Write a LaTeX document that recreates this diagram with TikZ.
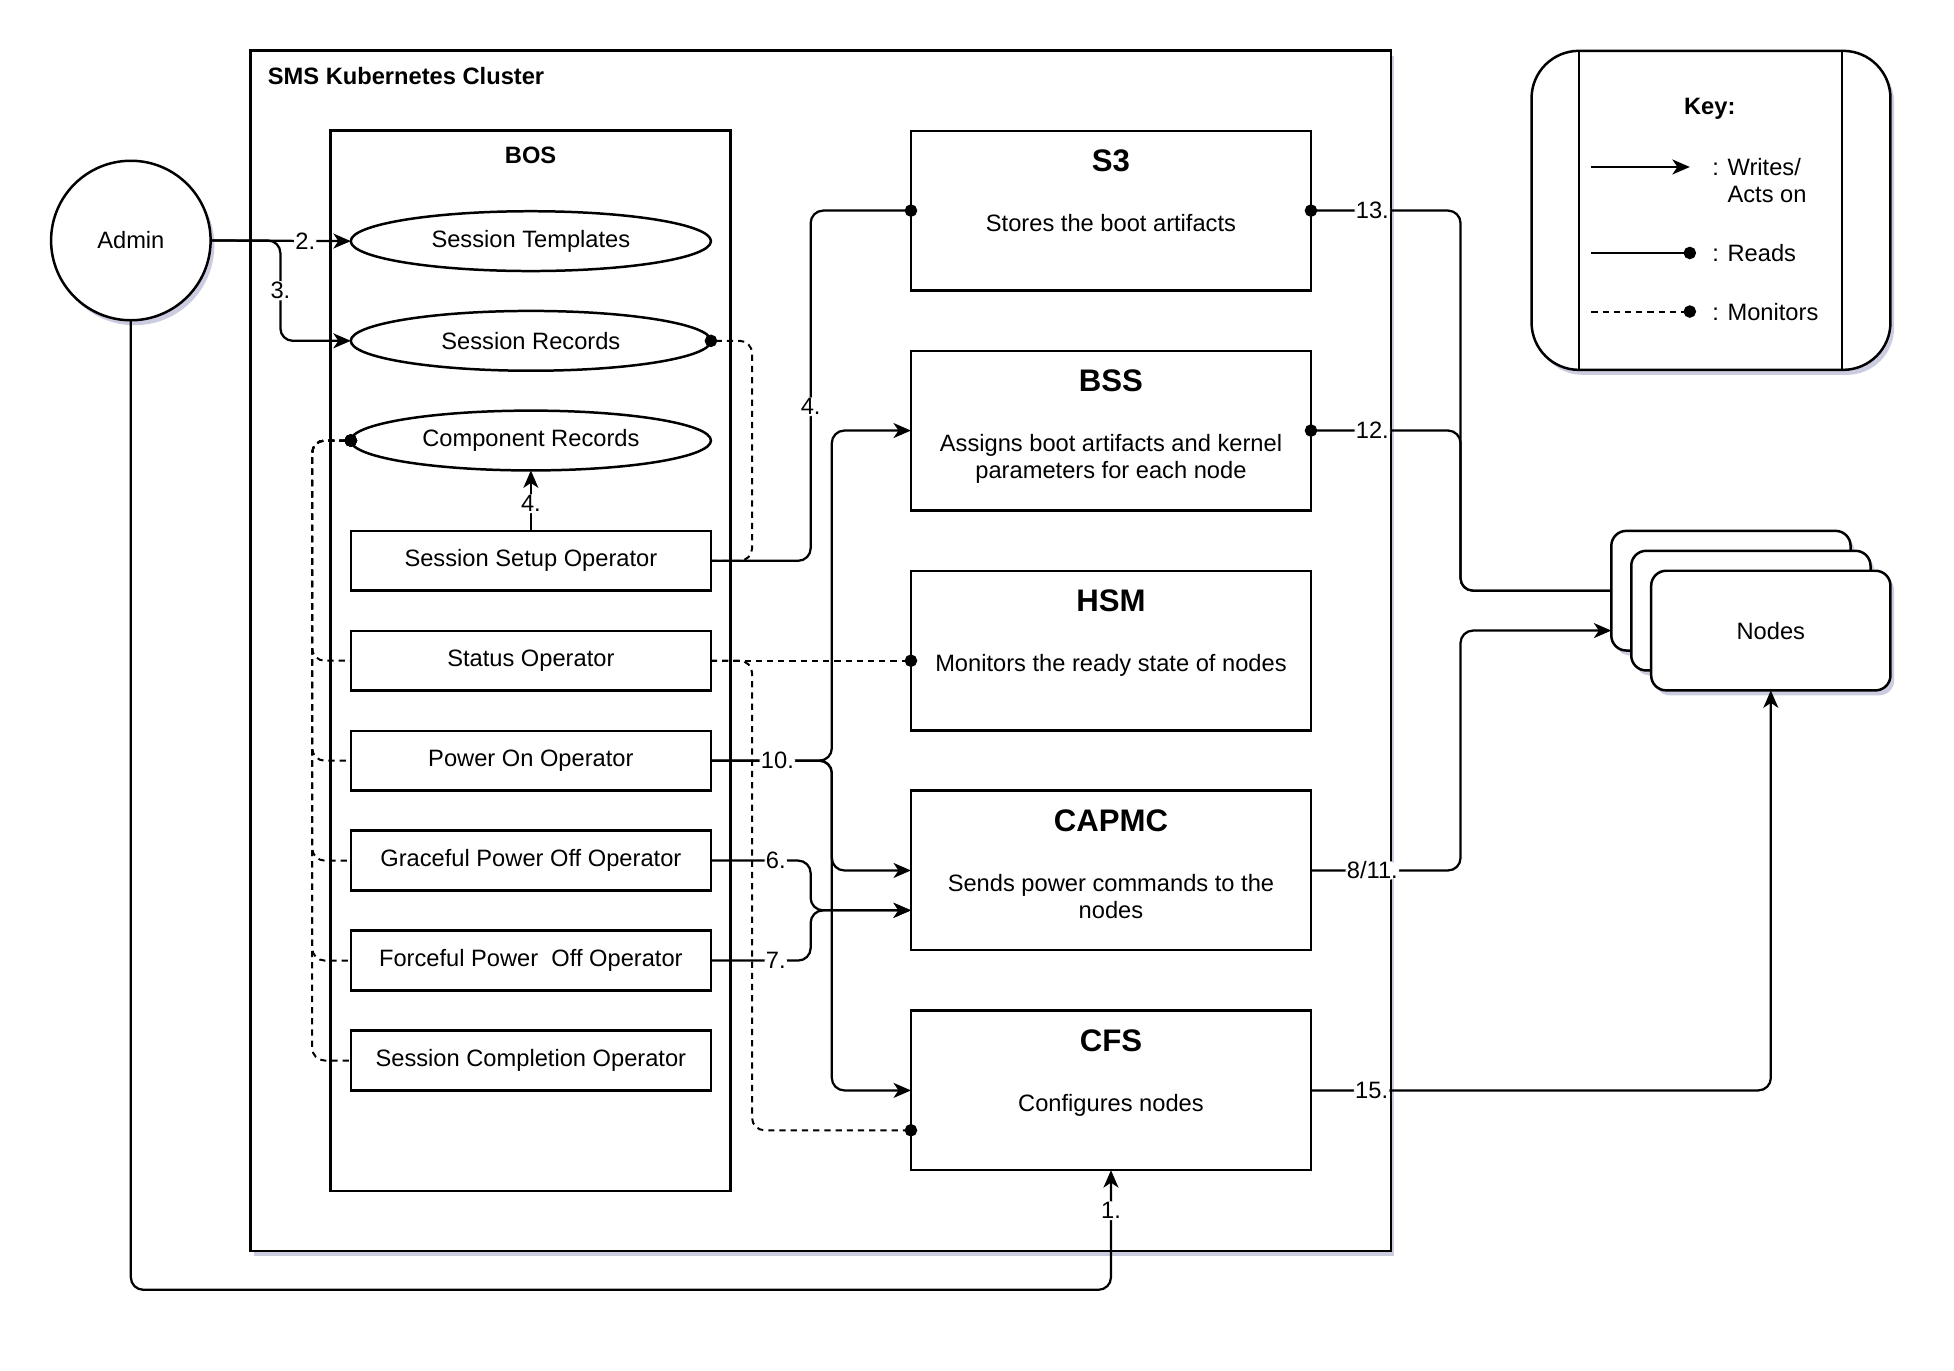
\documentclass[tikz,border=0pt]{standalone}
\usepackage{fontspec}
\setmainfont{Liberation Sans}
\usetikzlibrary{arrows.meta, positioning, shapes.geometric, shadows}

\begin{document}
\begin{tikzpicture}[x=1pt, y=-1pt,
                every node/.style={font=\fontsize{19}{22}\selectfont, outer sep=0pt},
                softshadow/.style={drop shadow={shadow xshift=3pt, shadow yshift=-4pt,
                                   opacity=0.2, fill=blue!40!black}},
                heading/.style={font=\fontsize{19}{22}\selectfont\bfseries, inner sep=0pt},
                cluster/.style={draw, line width=2pt, fill=white, softshadow,
                                minimum width=915pt, minimum height=963pt},
                bos/.style={draw, line width=2pt, minimum width=321pt, minimum height=851pt},
                actor/.style={circle, draw, line width=2pt, fill=white, softshadow,
                              minimum size=128pt},
                store/.style={ellipse, draw, line width=2pt, minimum width=289pt,
                              minimum height=48pt, inner sep=0pt},
                opbox/.style={draw, line width=2pt, minimum width=289pt, minimum height=48pt},
                svc/.style={draw, line width=2pt, minimum width=321pt, minimum height=128pt},
                svctitle/.style={font=\fontsize{25}{30}\selectfont\bfseries, inner sep=0pt},
                svctext/.style={align=center, inner sep=0pt},
                keybox/.style={draw, line width=2pt, fill=white, softshadow, rounded corners=38pt,
                               minimum width=288pt, minimum height=256pt},
                nodebox/.style={draw, line width=2pt, fill=white, softshadow, rounded corners=12pt,
                                minimum width=192pt, minimum height=96pt},
                lbl/.style={fill=white, inner sep=1pt},
                rdot/.tip={Circle[length=10pt]},
                writes/.style={-{Stealth[length=14pt, width=12pt, inset=4pt]}, line width=1.8pt,
                               rounded corners=10pt},
                reads/.style={line width=1.8pt, rounded corners=10pt},
                monitor/.style={line width=1.6pt, rounded corners=10pt, dash pattern=on 5pt off 4pt}]

                \useasboundingbox (0,0) rectangle (1568,1099.4);

                % Cluster and BOS containers
                \node[cluster] (sms) at (658.5,522.2) {};
                \node[heading, anchor=west] (smstitle) at (215,61) {SMS Kubernetes Cluster};
                \node[bos] (bosbox) at (425.8,530.1) {};
                \node[heading] (bostitle) at (425.8,125) {BOS};

                \node[actor] (admin) at (105,193) {Admin};

                % BOS records - ellipses
                \node[store] (st) at (426,193.5) {Session Templates};
                \node[store] (sr) at (426,273.5) {Session Records};
                \node[store] (cr) at (426,353.5) {Component Records};

                % BOS operators
                \node[opbox] (sso) at (426,450) {Session Setup Operator};
                \node[opbox, below=32.2pt of sso] (status) {Status Operator};
                \node[opbox, below=32.2pt of status] (poweron) {Power On Operator};
                \node[opbox, below=32.2pt of poweron] (graceful) {Graceful Power Off Operator};
                \node[opbox, below=32.2pt of graceful] (forceful) {Forceful Power\ \ Off Operator};
                \node[opbox, below=32.2pt of forceful] (complete) {Session Completion Operator};

                % Services - right side
                \node[svc] (s3) at (891.5,169) {};
                \node[svc, below=48.5pt of s3] (bss) {};
                \node[svc, below=48.5pt of bss] (hsm) {};
                \node[svc, below=48.5pt of hsm] (capmc) {};
                \node[svc, below=48.5pt of capmc] (cfs) {};

                \node[svctitle] (s3title) at ([yshift=-24pt]s3.north) {S3};
                \node[svctext, below=67pt of s3.north] (s3text) {Stores the boot artifacts};
                \node[svctitle] (bsstitle) at ([yshift=-24pt]bss.north) {BSS};
                \node[svctext, below=67pt of bss.north] (bsstext) {Assigns boot artifacts and kernel\\parameters for each node};
                \node[svctitle] (hsmtitle) at ([yshift=-24pt]hsm.north) {HSM};
                \node[svctext, below=67pt of hsm.north] (hsmtext) {Monitors the ready state of nodes};
                \node[svctitle] (capmctitle) at ([yshift=-24pt]capmc.north) {CAPMC};
                \node[svctext, below=67pt of capmc.north] (capmctext) {Sends power commands to the\\nodes};
                \node[svctitle] (cfstitle) at ([yshift=-24pt]cfs.north) {CFS};
                \node[svctext, below=67pt of cfs.north] (cfstext) {Configures nodes};

                % Key
                \node[keybox] (key) at (1373,168.8) {};
                \draw[line width=2pt] ([xshift=38pt]key.north west) -- ([xshift=38pt]key.south west);
                \draw[line width=2pt] ([xshift=-39pt]key.north east) -- ([xshift=-39pt]key.south east);
                \node[heading] (keytitle) at (1372,87) {Key:};
                \coordinate (kw1) at (1277,134);
                \coordinate (kw2) at (1356,134);
                \coordinate (kr1) at (1277,203);
                \coordinate (kr2) at (1356,203);
                \coordinate (km1) at (1277,250);
                \coordinate (km2) at (1356,250);
                \draw[writes] (kw1) -- (kw2);
                \draw[reads, -rdot, shorten >=-5pt] (kr1) -- (kr2);
                \draw[monitor, -rdot, shorten >=-5pt] (km1) -- (km2);
                \node[align=left, inner sep=0pt, anchor=north west] (kwtext) at (1374,127) {: Writes/\\\phantom{: }Acts on};
                \node[inner sep=0pt, anchor=west] (krtext) at (1374,203) {: Reads};
                \node[inner sep=0pt, anchor=west] (kmtext) at (1374,250) {: Monitors};

                % Nodes stack
                \node[nodebox] (nodesback) at (1389,474) {};
                \node[nodebox] (nodesmid) at (1405,490) {};
                \node[nodebox] (nodes) at (1421,506) {Nodes};

                % Admin arrows
                \draw[writes] (admin.east) -- node[lbl, pos=0.675]{2.} (st.west);
                \draw[writes] (admin.east) -- ++(56,0) |- node[lbl, pos=0.25]{3.} (sr.west);
                \draw[writes] (admin.south) |- ([yshift=-96pt]cfs.south) -- node[lbl, pos=0.66]{1.} (cfs.south);

                % Session setup operator
                \draw[monitor, -rdot, shorten >=-5pt] (sso.east) -- ++(33,0) |- (sr.east);
                \draw[writes] (sso.north) -- node[lbl, pos=0.45]{4.} (cr.south);
                \draw[reads, -rdot, shorten >=-5pt] (sso.east) -- ++(80,0) |- node[lbl, pos=0.22]{4.} (s3.west);

                % Operators monitor component records (dashed)
                \draw[monitor, rdot-, shorten <=-5pt] (cr.west) -- ++(-31,0) |- (status.west);
                \draw[monitor, rdot-, shorten <=-5pt] (cr.west) -- ++(-31,0) |- (poweron.west);
                \draw[monitor, rdot-, shorten <=-5pt] (cr.west) -- ++(-31,0) |- (graceful.west);
                \draw[monitor, rdot-, shorten <=-5pt] (cr.west) -- ++(-31,0) |- (forceful.west);
                \draw[monitor, rdot-, shorten <=-5pt] (cr.west) -- ++(-31,0) |- (complete.west);

                % Status operator monitors HSM and CFS
                \draw[monitor, -rdot, shorten >=-5pt] (status.east) -- (status.east -| hsm.west);
                \draw[monitor, -rdot, shorten >=-5pt] (status.east) -- ++(33,0) |- ([yshift=-32pt]cfs.west);

                % Power operators act on services
                \draw[writes] (poweron.east) -- ++(97,0) |- (bss.west);
                \draw[writes] (poweron.east) -- ++(97,0) |- (capmc.west);
                \draw[writes] (poweron.east) -- node[lbl, pos=0.55]{10.} ++(97,0) |- (cfs.west);
                \draw[writes] (graceful.east) -- node[lbl, pos=0.65]{6.} ++(80,0) |- ([yshift=-32pt]capmc.west);
                \draw[writes] (forceful.east) -- node[lbl, pos=0.65]{7.} ++(80,0) |- ([yshift=-32pt]capmc.west);

                % Services and nodes
                \draw[reads, rdot-, shorten <=-5pt] (s3.east) -- node[lbl, pos=0.41]{13.} ++(120,0) |- (nodesback.west);
                \draw[reads, rdot-, shorten <=-5pt] (bss.east) -- node[lbl, pos=0.41]{12.} ++(120,0) |- (nodesback.west);
                \draw[writes] (capmc.east) -- node[lbl, pos=0.41]{8/11.} ++(120,0) |- ([yshift=-32pt]nodesback.west);
                \draw[writes] (cfs.east) -| node[lbl, pos=0.066]{15.} (nodes.south);
            \end{tikzpicture}
\end{document}
